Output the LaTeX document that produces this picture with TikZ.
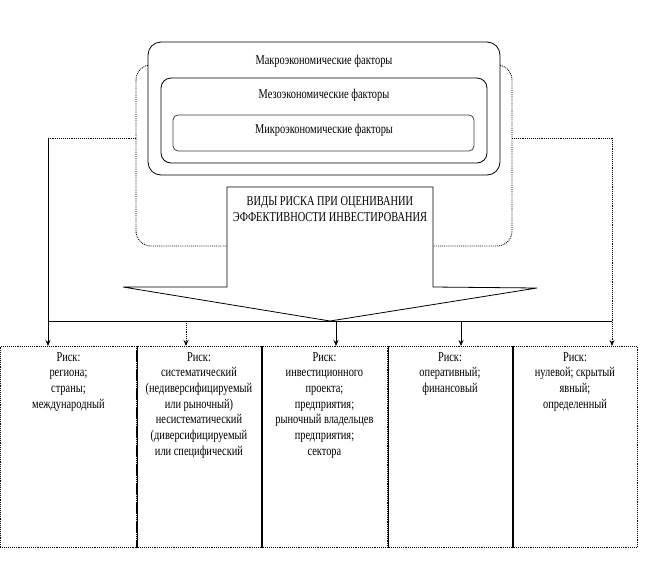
\documentclass[tikz,border=0pt]{standalone}
\usepackage{fontspec}
\setmainfont{Liberation Serif}[FakeStretch=0.77]
\usepackage{tikz}
\usetikzlibrary{arrows.meta,positioning}

\tikzset{
  dotline/.style={densely dotted, line width=0.9pt},
  solidline/.style={line width=0.8pt},
  factorbox/.style={draw, solidline, rounded corners=#1, fill=white},
  factortext/.style={font=\fontsize{13.5}{15.7}\selectfont, inner sep=0pt},
  riskbox/.style={draw, dotline, minimum height=201pt, anchor=north west, inner sep=0pt},
  risktext/.style={font=\fontsize{13.5}{15.7}\selectfont, align=center, anchor=north, inner sep=0pt},
  tip/.style={-{Stealth[length=6pt,width=5pt]}},
}

\begin{document}
\begin{tikzpicture}[x=1pt, y=-1pt]
            \useasboundingbox (0,0) rectangle (647,560);

            % back box and the three factor levels
            \draw[dotline, rounded corners=15pt] (136,65) rectangle (512,246);
            \coordinate (bl) at (136,138);
            \coordinate (br) at (512,138);
            \draw[factorbox=13pt] (148,42) rectangle (500,175);
            \node[factortext] (macro) at (324,61) {Макроэкономические факторы};
            \draw[factorbox=10pt] (161,78) rectangle (487,163);
            \node[factortext] (mezo) at (324,95) {Мезоэкономические факторы};
            \draw[factorbox=5pt, draw=black!75] (173,115) rectangle (474,151);
            \node[factortext] (micro) at (324,130) {Микроэкономические факторы};

            % callout arrow
            \draw[solidline, fill=white] (227,187) -- (433,187) -- (433,287) -- (537,288)
                -- (330,321) -- (123,287) -- (227,287) -- cycle;
            \node[factortext, align=center] (kinds) at (330,209)
                {ВИДЫ РИСКА ПРИ ОЦЕНИВАНИИ\\ЭФФЕКТИВНОСТИ ИНВЕСТИРОВАНИЯ};

            % risk boxes
            \node[riskbox, minimum width=136pt] (r1) at (0,346) {};
            \node[riskbox, minimum width=125pt] (r2) at (136,346) {};
            \node[riskbox, minimum width=126pt] (r3) at (261,346) {};
            \node[riskbox, minimum width=125pt] (r4) at (387,346) {};
            \node[riskbox, minimum width=125pt] (r5) at (512,346) {};
            \foreach \i in {1,2,3,4}
                \draw[solidline] (r\i.north east) -- (r\i.south east);

            \node[risktext] (t1) at ([yshift=-6pt]r1.north) {Риск:\\региона;\\страны;\\международный};
            \node[risktext] (t2) at ([yshift=-6pt]r2.north) {Риск:\\систематический\\(недиверсифицируемый\\или рыночный)\\несистематический\\(диверсифицируемый\\или специфический};
            \node[risktext] (t3) at ([yshift=-6pt]r3.north) {Риск:\\инвестиционного\\проекта;\\предприятия;\\рыночный владельцев\\предприятия;\\сектора};
            \node[risktext] (t4) at ([yshift=-6pt]r4.north) {Риск:\\оперативный;\\финансовый};
            \node[risktext] (t5) at ([yshift=-6pt]r5.north) {Риск:\\нулевой; скрытый\\явный;\\определенный};

            % bus and arrows
            \coordinate (b1) at (48,321);
            \coordinate (b2) at (186,321);
            \coordinate (b3) at (336,321);
            \coordinate (b4) at (461,321);
            \coordinate (b5) at (612,321);
            \draw[solidline] (b1) -- (b5);
            \draw[dotline] (bl) -- (bl -| b1);
            \draw[solidline] (bl -| b1) -- (b1);
            \draw[solidline, tip] (b1) -- (b1 |- r1.north);
            \draw[dotline] (br) -- (br -| b5);
            \draw[dotline, tip] (br -| b5) -- (b5 |- r5.north);
            \draw[dotline, tip] (b2) -- (b2 |- r2.north);
            \draw[solidline, tip] (b3) -- (b3 |- r3.north);
            \draw[solidline, tip] (b4) -- (b4 |- r4.north);
        \end{tikzpicture}
\end{document}
